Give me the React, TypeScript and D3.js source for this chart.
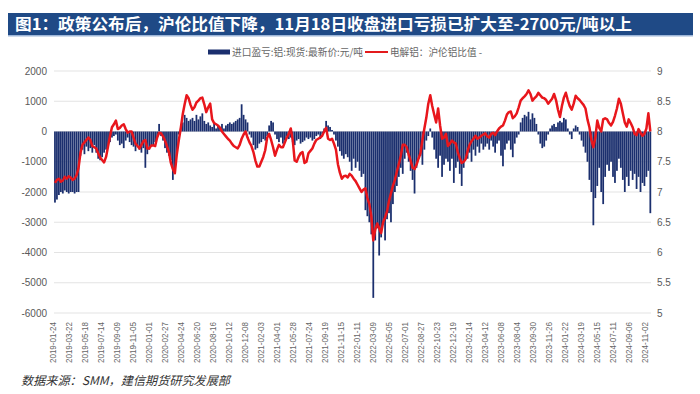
import React from "react";
import * as d3 from "d3";

const TITLE = "图1：政策公布后，沪伦比值下降，11月18日收盘进口亏损已扩大至-2700元/吨以上";
const LEGEND_BAR = "进口盈亏:铝:现货:最新价:元/吨";
const LEGEND_LINE = "电解铝：沪伦铝比值 -";
const SOURCE = "数据来源：SMM，建信期货研究发展部";

const LEFT_TICKS = [2000, 1000, 0, -1000, -2000, -3000, -4000, -5000, -6000];
const RIGHT_TICKS = [9, 8.5, 8, 7.5, 7, 6.5, 6, 5.5, 5];
const X_LABELS = [
  "2019-01-24","2019-03-22","2019-05-18","2019-07-14","2019-09-09","2019-11-05",
  "2020-01-01","2020-02-27","2020-04-24","2020-06-20","2020-08-16","2020-10-12","2020-12-08",
  "2021-02-03","2021-04-01","2021-05-28","2021-07-24","2021-09-19","2021-11-15",
  "2022-01-11","2022-03-09","2022-05-05","2022-07-01","2022-08-27","2022-10-23","2022-12-19",
  "2023-02-14","2023-04-12","2023-06-08","2023-08-04","2023-09-30","2023-11-26",
  "2024-01-22","2024-03-19","2024-05-15","2024-07-11","2024-09-06","2024-11-02",
];

const FIRST_DATE = "2019-01-31";

// 沪伦铝比值 (weekly)
const RATIO = [
  7.15,7.2,7.22,7.17,7.19,7.25,7.22,7.26,7.24,7.2,
  7.22,7.28,7.4,7.65,7.78,7.82,7.86,7.9,7.86,7.76,
  7.74,7.72,7.64,7.57,7.53,7.49,7.58,7.75,7.92,8.07,
  8.12,8.18,8.04,8.06,8.1,8.12,8.04,7.98,8.0,8.0,
  7.9,7.8,7.76,7.72,7.78,7.84,7.86,7.72,7.72,7.77,
  7.77,7.76,7.9,7.98,7.97,7.92,7.85,7.76,7.66,7.48,
  7.38,7.31,7.62,7.85,8.05,8.28,8.45,8.6,8.55,8.44,
  8.36,8.4,8.48,8.51,8.55,8.56,8.45,8.32,8.4,8.46,
  8.2,8.14,8.12,8.1,8.06,8.0,7.96,7.92,7.88,7.85,
  7.8,7.76,7.74,7.72,7.78,7.88,7.95,8.0,7.9,7.82,
  7.76,7.66,7.52,7.42,7.42,7.5,7.58,7.69,7.9,7.96,
  7.86,7.74,7.6,7.7,7.78,7.74,7.74,7.82,7.9,7.96,
  8.05,7.86,7.52,7.5,7.58,7.64,7.66,7.48,7.5,7.64,
  7.68,7.72,7.8,7.86,7.88,7.9,7.93,8.0,8.06,7.88,
  7.86,7.88,7.8,7.7,7.46,7.32,7.22,7.26,7.27,7.24,
  7.3,7.27,7.22,7.18,7.12,7.06,7.0,7.04,7.06,6.9,
  6.8,6.6,6.2,6.38,6.48,6.4,6.32,6.5,6.58,6.68,
  6.85,6.98,7.1,7.2,7.34,7.46,7.6,7.78,7.78,7.74,
  7.62,7.52,7.4,7.38,7.45,7.55,7.64,7.86,8.05,8.23,
  8.46,8.6,8.42,8.28,8.15,8.38,8.1,7.88,7.9,7.96,
  7.76,7.8,7.85,7.82,7.8,7.66,7.56,7.48,7.5,7.54,
  7.68,7.78,7.84,7.88,7.93,7.88,7.9,7.93,7.95,7.97,
  7.92,7.9,7.96,7.98,7.94,8.0,8.05,8.08,8.1,8.18,
  8.28,8.32,8.33,8.22,8.25,8.3,8.4,8.51,8.55,8.58,
  8.62,8.68,8.62,8.51,8.55,8.58,8.64,8.6,8.56,8.55,
  8.52,8.46,8.5,8.54,8.62,8.52,8.36,8.24,8.42,8.56,
  8.64,8.52,8.42,8.36,8.46,8.59,8.55,8.52,8.48,8.44,
  8.38,8.2,8.07,7.86,7.74,7.9,8.18,8.06,8.0,8.2,
  8.22,8.2,8.14,8.1,8.16,8.26,8.38,8.54,8.46,8.3,
  8.15,8.08,8.2,8.14,8.07,7.96,7.94,8.04,7.98,7.93,
  7.96,8.05,8.3,8.0,
];

// 进口盈亏 元/吨 (weekly)
const PROFIT = [
  -2350,-2250,-2100,-2000,-2050,-1950,-2000,-2050,-2000,-2000,
  -2050,-2000,-2000,-800,-600,-750,-500,-650,-550,-700,
  -450,-700,-900,-950,-850,-700,-600,-500,-350,-200,
  -150,-100,-300,-450,-400,-550,-300,-200,-350,-450,
  -500,-650,-450,-600,-700,-550,-1200,-750,-600,-500,
  -450,-350,-250,250,-150,-300,-550,-700,-800,-950,
  -1600,-1300,-700,-100,100,300,550,450,350,400,
  450,350,550,400,500,600,350,250,300,200,
  150,250,100,200,150,250,100,200,250,300,
  250,300,350,400,450,900,550,400,300,-100,
  -200,-450,-600,-550,-400,-350,-250,-300,-150,200,
  350,300,-100,-250,-350,-200,-400,-300,-150,-250,
  -200,-350,-450,-300,-250,-400,-350,-300,-200,-250,
  -200,-300,-250,-150,-100,-250,-100,100,350,200,
  150,50,-100,-300,-500,-650,-800,-900,-750,-850,
  -1000,-1300,-900,-1200,-1000,-1300,-1500,-1400,-2600,-2800,
  -3000,-3400,-5500,-3600,-3200,-4100,-3500,-3000,-3600,-2900,
  -2700,-3000,-2400,-2000,-1800,-1500,-1200,-1400,-900,-700,
  -1000,-1300,-1600,-2050,-1200,-900,-800,-1100,-600,-300,
  -150,100,-200,-600,-900,-1200,-800,-1500,-1100,-900,
  -1000,-1300,-900,-1700,-1200,-1000,-1400,-1800,-1200,-900,
  -900,-700,-1000,-600,-800,-500,-700,-400,-600,-500,
  -400,-600,-300,-500,-700,-400,-300,-800,-1150,-600,
  -400,-300,-600,-850,-400,-200,-100,300,450,550,
  500,650,400,600,450,250,-100,-400,-550,-500,
  -300,-100,100,200,250,150,300,350,300,450,
  400,100,-100,-250,100,200,150,-100,-300,-500,
  -700,-1000,-1600,-2000,-3100,-2200,-1800,-1200,-2000,-2400,
  -1500,-1100,-1300,-1000,-1500,-1700,-1300,-900,-1200,-1600,
  -2000,-1500,-1800,-1300,-1600,-1400,-1900,-1500,-2000,-1700,
  -1800,-1500,-1300,-2700,
];

const parse = d3.timeParse("%Y-%m-%d");
const CJK = "'Noto Sans CJK SC', 'Noto Sans', sans-serif";
const LAT = "'Liberation Sans', Arial, sans-serif";

export default function App() {
  const W = 700, H = 394;
  const plotL = 54, plotR = 651, top = 71, bottom = 313;
  const x = d3.scaleTime()
    .domain([parse(X_LABELS[0])!, parse(X_LABELS[X_LABELS.length - 1])!])
    .range([53, 645]);
  const yL = d3.scaleLinear().domain([-6000, 2000]).range([bottom, top]);
  const yR = d3.scaleLinear().domain([5, 9]).range([bottom, top]);
  const start = parse(FIRST_DATE)!;
  const dates = RATIO.map((_, i) => d3.timeDay.offset(start, i * 7));
  const step = x(dates[1]) - x(dates[0]);
  const bw = step * 0.9;

  const line = d3.line<number>()
    .x((_, i) => x(dates[i]))
    .y((d) => yR(d));

  return (
    <svg width={W} height={H} style={{ position: "absolute", left: 0, top: 0, background: "#fff" }}>
      <rect x={0} y={0} width={W} height={H} fill="#fff" />
      {/* title bar */}
      <rect x={8} y={13} width={685} height={22} fill="#1f4a86" />
      <rect x={8} y={35} width={685} height={1.5} fill="#9db6d8" />
      <text x={15} y={30} fill="#fff" fontFamily={CJK} fontWeight="bold" fontSize={16}
        textLength={617} lengthAdjust="spacingAndGlyphs">{TITLE}</text>

      {/* legend */}
      <rect x={208} y={49.5} width={22} height={5} fill="#1b2f6e" />
      <text x={232} y={55.5} fill="#666" fontFamily={CJK} fontSize={10} textLength={131} lengthAdjust="spacingAndGlyphs">{LEGEND_BAR}</text>
      <line x1={365} x2={388} y1={52} y2={52} stroke="#e31a1c" strokeWidth={2} />
      <text x={390} y={55.5} fill="#666" fontFamily={CJK} fontSize={10} textLength={92} lengthAdjust="spacingAndGlyphs">{LEGEND_LINE}</text>

      {/* gridlines */}
      {LEFT_TICKS.map((t) => (
        <line key={"g" + t} x1={plotL} x2={plotR} y1={yL(t)} y2={yL(t)} stroke="#e3e3e3" strokeWidth={1} />
      ))}

      {/* bars */}
      {PROFIT.map((v, i) => {
        const cx = x(dates[i]);
        const y0 = yL(0), y1 = yL(v);
        return (
          <rect key={"b" + i} x={cx - bw / 2} y={Math.min(y0, y1)} width={bw}
            height={Math.max(0.5, Math.abs(y1 - y0))} fill="#1b2f6e" />
        );
      })}

      {/* ratio line */}
      <path d={line(RATIO) || ""} fill="none" stroke="#e8161c" strokeWidth={2.5} strokeLinejoin="round" />

      {/* left axis */}
      {LEFT_TICKS.map((t) => (
        <text key={"l" + t} x={47} y={yL(t) + 3.5} textAnchor="end" fill="#595959" fontFamily={LAT} fontSize={10}>{t}</text>
      ))}
      {/* right axis */}
      {RIGHT_TICKS.map((t) => (
        <text key={"r" + t} x={657} y={yR(t) + 3.5} textAnchor="start" fill="#595959" fontFamily={LAT} fontSize={10}>{t}</text>
      ))}
      {/* x labels */}
      {X_LABELS.map((s) => {
        const px = x(parse(s)!);
        return (
          <text key={s} transform={`translate(${px + 3},322) rotate(-90)`} textAnchor="end"
            fill="#666" fontFamily={LAT} fontSize={8.5} textLength={41} lengthAdjust="spacingAndGlyphs">{s}</text>
        );
      })}

      {/* source */}
      <text x={21} y={385} fill="#333" fontFamily={CJK} fontSize={12} fontStyle="italic"
        textLength={209} lengthAdjust="spacingAndGlyphs">{SOURCE}</text>
    </svg>
  );
}
